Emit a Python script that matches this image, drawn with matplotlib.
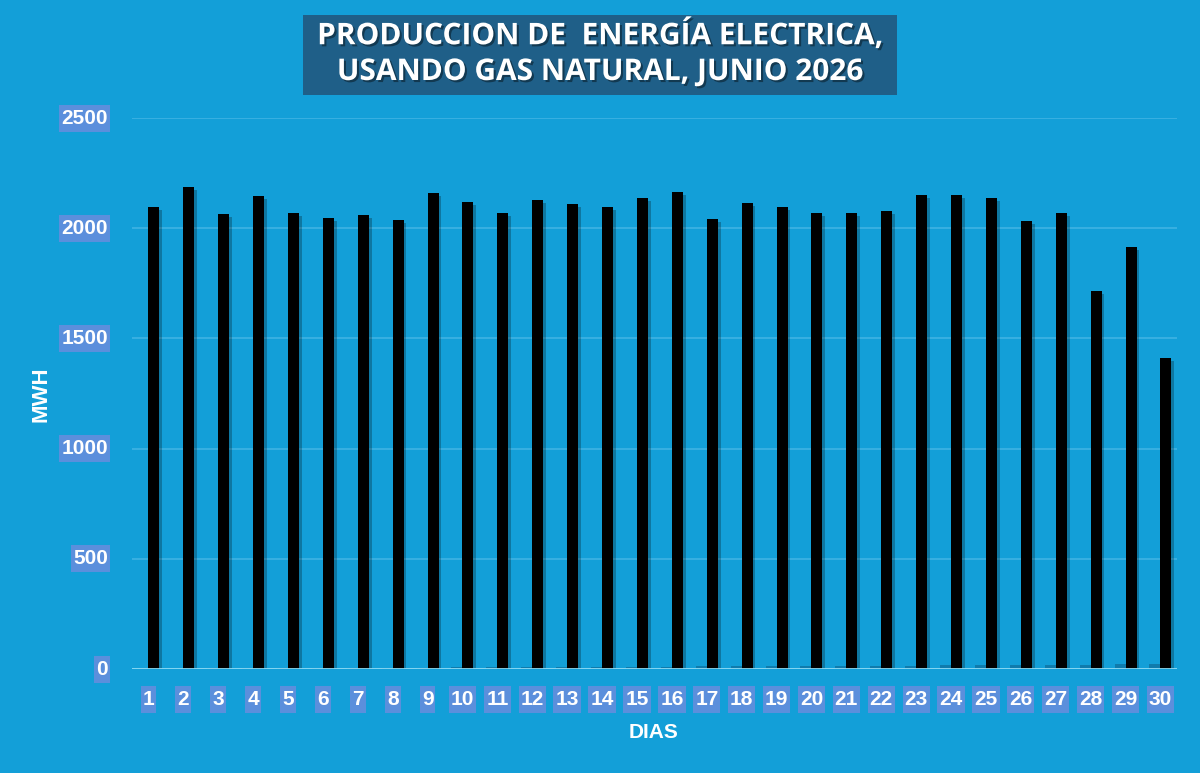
import numpy as np
import matplotlib.pyplot as plt
import matplotlib.patheffects as pe
from matplotlib.transforms import IdentityTransform

plt.rcParams['font.family'] = ['Liberation Sans', 'DejaVu Sans']

# daily production (MWH), June 2026
dias = list(range(1, 31))
mwh = [2096, 2187, 2064, 2146, 2069, 2046, 2060, 2037, 2160, 2119,
       2069, 2128, 2110, 2096, 2137, 2164, 2042, 2114, 2096, 2069,
       2069, 2078, 2151, 2151, 2137, 2033, 2069, 1715, 1915, 1411]
# faint second series sitting at the baseline
mwh_aux = [2, 2, 3, 3, 4, 4, 5, 5, 6, 7, 8, 8, 9, 10, 10,
           11, 12, 12, 13, 14, 14, 15, 16, 17, 17, 18, 19, 20, 21, 22]
yticks = [0, 500, 1000, 1500, 2000, 2500]

bg = '#139fd8'
box = '#5b8fdc'

fig = plt.figure(figsize=(12, 7.73), dpi=100, facecolor=bg)
ax = fig.add_axes([0.11, 0.1345, 0.871, 0.7128], facecolor=bg)

x = np.array(dias)
w = 0.315
ax.bar(x - w / 2, mwh_aux, width=w, color='#0a3a5a', alpha=0.35, zorder=2)
ax.bar(x + w / 2, mwh, width=w, color='black', zorder=3,
       path_effects=[pe.SimplePatchShadow(offset=(2, -2), alpha=0.25), pe.Normal()])

ax.set_xlim(0.53, 30.48)
ax.set_ylim(0, 2500)
ax.set_yticks(yticks[1:])
ax.set_yticklabels([])
ax.set_xticks([])
ax.grid(axis='y', color='#3fb3e4', linewidth=1.2, zorder=0)
for s in ax.spines.values():
    s.set_visible(False)
ax.axhline(0, color='#8fdcf5', linewidth=2, zorder=4)
ax.tick_params(length=0)

labels = []
# y tick labels
for v in yticks:
    t = ax.text(-0.023, v, str(v), transform=ax.get_yaxis_transform(),
                ha='right', va='center', color='white', fontsize=15,
                fontweight='bold', zorder=6)
    labels.append(t)

# x tick labels
for d in dias:
    t = ax.text(d, -0.055, str(d), transform=ax.get_xaxis_transform(),
                ha='center', va='center', color='white', fontsize=15,
                fontweight='bold', zorder=6)
    labels.append(t)

# highlight boxes behind the tick labels (tight sides, taller top/bottom)
fig.canvas.draw()
r = fig.canvas.get_renderer()
for t in labels:
    bb = t.get_window_extent(r)
    ax.add_artist(plt.Rectangle((bb.x0 - 2, bb.y0 - 4), bb.width + 4, bb.height + 8,
                                transform=IdentityTransform(), fc=box, ec='none',
                                clip_on=False, zorder=5))

fig.text(0.545, 0.052, 'DIAS', ha='center', va='center', color='white',
         fontsize=15, fontweight='bold')
fig.text(0.034, 0.49, 'MWH', ha='center', va='center', color='white',
         fontsize=16, fontweight='bold', rotation=90)

# title banner
fig.patches.append(plt.Rectangle((0.2525, 1 - 95 / 773), 0.495, 80 / 773,
                                 transform=fig.transFigure, fc='#1f5f88',
                                 ec='none', zorder=1))
tshadow = [pe.SimplePatchShadow(offset=(1.5, -1.5), shadow_rgbFace='black', alpha=0.4),
           pe.Normal()]
fig.text(0.5, 1 - 35 / 773, 'PRODUCCION DE  ENERGÍA ELECTRICA,',
         ha='center', va='center', color='white', fontsize=21.5,
         fontweight='bold', family=['Open Sans', 'DejaVu Sans'],
         path_effects=tshadow, zorder=2)
fig.text(0.5, 1 - 72 / 773, 'USANDO GAS NATURAL, JUNIO 2026',
         ha='center', va='center', color='white', fontsize=21.5,
         fontweight='bold', family=['Open Sans', 'DejaVu Sans'],
         path_effects=tshadow, zorder=2)

fig.savefig('out.png', dpi=100, facecolor=bg)
